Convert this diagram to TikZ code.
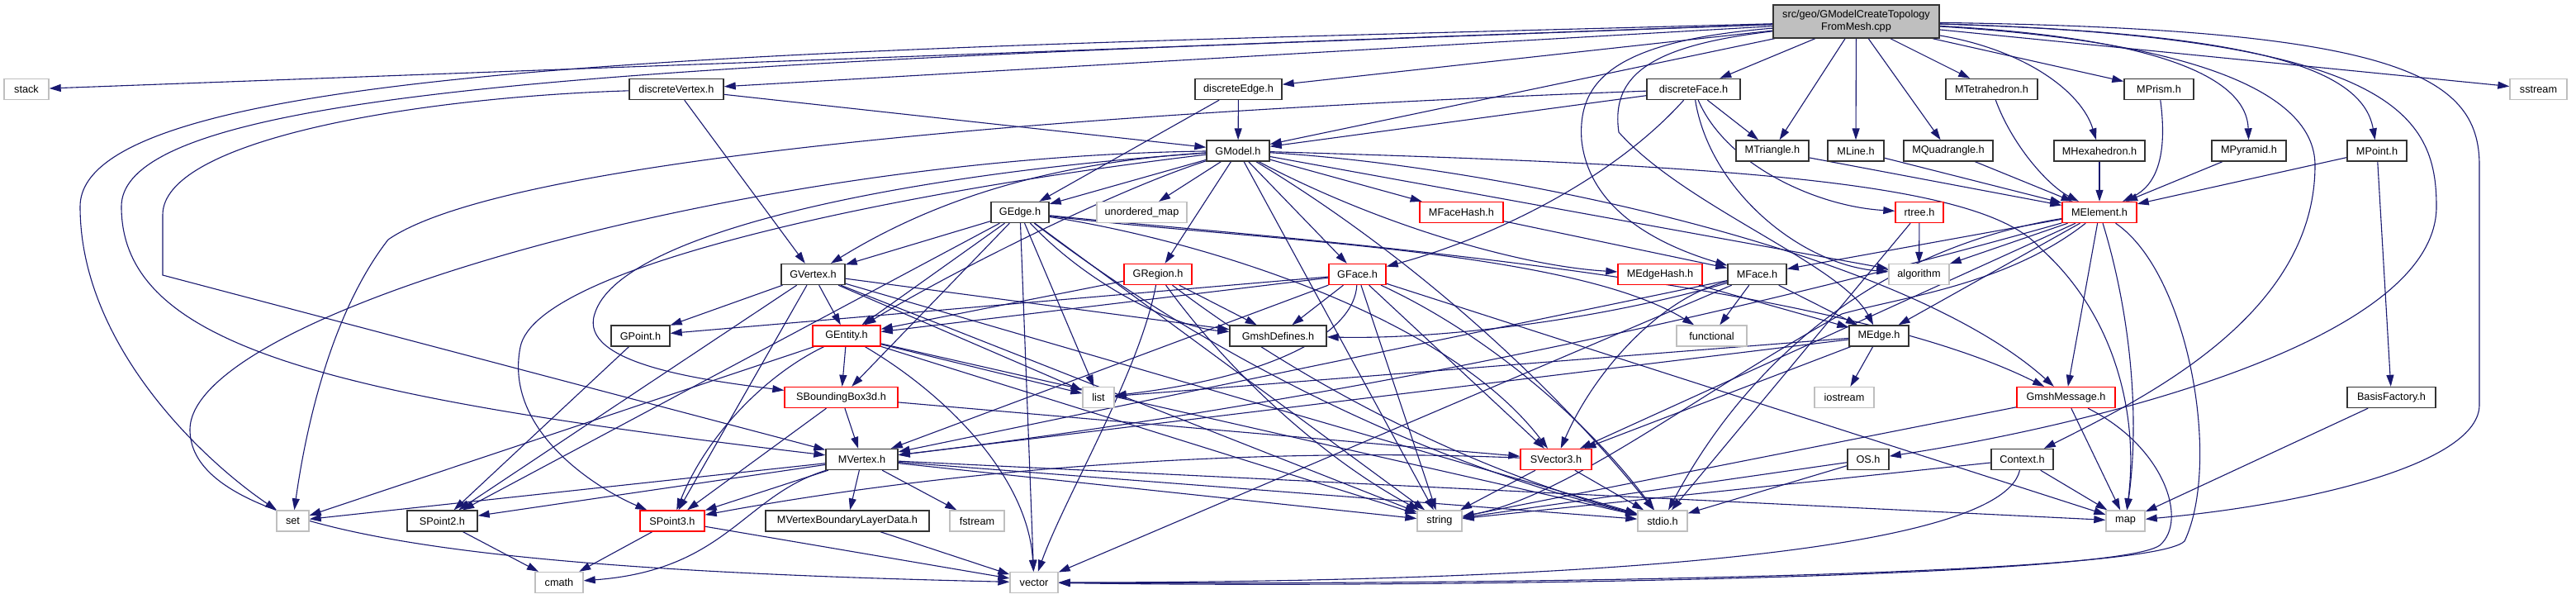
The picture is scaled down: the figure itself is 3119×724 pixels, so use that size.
\documentclass[tikz,border=0pt]{standalone}
\usepackage{fontspec}
\setmainfont{Liberation Sans}
\usetikzlibrary{arrows.meta}
\definecolor{ec}{HTML}{191970}
\definecolor{gb}{HTML}{BFBFBF}
\definecolor{rb}{HTML}{FF0000}
\pgfdeclarelayer{bg}
\pgfsetlayers{bg,main}
\begin{document}
\begin{tikzpicture}[x=1pt,y=-1pt,
  nd/.style={rectangle,minimum height=25pt,inner sep=0pt,fill=white,line width=1.4pt,font=\fontsize{12.7}{15}\selectfont,text=black},
  bk/.style={nd,draw=black!80},
  gy/.style={nd,draw=gb},
  rd/.style={nd,draw=rb},
  e/.style={draw=ec,line width=1.1pt,-{Triangle[length=14pt,width=9pt]}}]
\useasboundingbox (0,0) rectangle (3119,724);
% nodes
\node[bk,minimum width=201pt,minimum height=40pt,fill=gb,align=center] (root) at (2247.5,26) {src/geo/GModelCreateTopology\\FromMesh.cpp};
\node[gy,minimum width=54pt] (stack) at (32,108) {stack};
\node[bk,minimum width=114pt] (dV) at (819,108) {discreteVertex.h};
\node[bk,minimum width=105pt] (dE) at (1499.5,108) {discreteEdge.h};
\node[bk,minimum width=113pt] (dF) at (2050.5,108) {discreteFace.h};
\node[bk,minimum width=111pt] (MTet) at (2411.5,108) {MTetrahedron.h};
\node[bk,minimum width=84pt] (MPr) at (2614,108) {MPrism.h};
\node[gy,minimum width=69pt] (sstr) at (3073.5,108) {sstream};
\node[bk,minimum width=76pt] (GM) at (1499,182.5) {GModel.h};
\node[bk,minimum width=88pt] (MTri) at (2146,182.5) {MTriangle.h};
\node[bk,minimum width=68pt] (MLi) at (2247,182.5) {MLine.h};
\node[bk,minimum width=108pt] (MQu) at (2359,182.5) {MQuadrangle.h};
\node[bk,minimum width=110pt] (MHex) at (2542,182.5) {MHexahedron.h};
\node[bk,minimum width=90pt] (MPy) at (2723,182.5) {MPyramid.h};
\node[bk,minimum width=72pt] (MPt) at (2878,182.5) {MPoint.h};
\node[bk,minimum width=70pt] (GE) at (1235,257) {GEdge.h};
\node[gy,minimum width=109pt] (um) at (1382.5,257) {unordered\_map};
\node[rd,minimum width=101pt] (MFH) at (1769.5,257) {MFaceHash.h};
\node[rd,minimum width=58pt] (rtree) at (2324,257) {rtree.h};
\node[rd,minimum width=90pt] (MEl) at (2542,257) {MElement.h};
\node[bk,minimum width=77pt] (GV) at (984.5,332) {GVertex.h};
\node[rd,minimum width=82pt] (GR) at (1402,332) {GRegion.h};
\node[rd,minimum width=69pt] (GF) at (1643.5,332) {GFace.h};
\node[rd,minimum width=102pt] (MEH) at (2010,332) {MEdgeHash.h};
\node[bk,minimum width=71pt] (MF) at (2127.5,332) {MFace.h};
\node[gy,minimum width=73pt] (alg) at (2323.5,332) {algorithm};
\node[bk,minimum width=71pt] (GP) at (775.5,406.5) {GPoint.h};
\node[rd,minimum width=82pt] (GEn) at (1025,406.5) {GEntity.h};
\node[bk,minimum width=117pt] (GD) at (1547.5,406.5) {GmshDefines.h};
\node[gy,minimum width=85pt] (func) at (2072.5,406.5) {functional};
\node[bk,minimum width=72pt] (ME) at (2275,406.5) {MEdge.h};
\node[rd,minimum width=137pt] (SBB) at (1018.5,481) {SBoundingBox3d.h};
\node[gy,minimum width=38pt] (list) at (1330,481) {list};
\node[gy,minimum width=72pt] (iost) at (2233,481) {iostream};
\node[rd,minimum width=119pt] (GMsg) at (2501.5,481) {GmshMessage.h};
\node[bk,minimum width=107pt] (BF) at (2895.5,481) {BasisFactory.h};
\node[bk,minimum width=87pt] (MV) at (1043.5,556) {MVertex.h};
\node[rd,minimum width=86pt] (SV3) at (1884,556) {SVector3.h};
\node[bk,minimum width=50pt] (OS) at (2262,556) {OS.h};
\node[bk,minimum width=75pt] (Ctx) at (2448.5,556) {Context.h};
\node[gy,minimum width=39pt] (set) at (354.5,630.5) {set};
\node[bk,minimum width=85pt] (SP2) at (535.5,630.5) {SPoint2.h};
\node[rd,minimum width=78pt] (SP3) at (814,630.5) {SPoint3.h};
\node[bk,minimum width=198pt] (MVB) at (1026,630.5) {MVertexBoundaryLayerData.h};
\node[gy,minimum width=66pt] (fstr) at (1183,630.5) {fstream};
\node[gy,minimum width=54pt] (str) at (1743,630.5) {string};
\node[gy,minimum width=60pt] (stdio) at (2013,630.5) {stdio.h};
\node[gy,minimum width=47pt] (map) at (2573.5,630.5) {map};
\node[gy,minimum width=58pt] (cmath) at (677,705) {cmath};
\node[gy,minimum width=58pt] (vec) at (1252,705) {vector};
\begin{pgfonlayer}{bg}
\fill[white] (0,0) rectangle (3119,724);
% root
\draw[e] (root) -- (stack);
\draw[e] (root) .. controls (1000,60) and (97,70) .. (97,250) .. controls (97,420) and (250,560) .. (set);
\draw[e] (root) .. controls (900,75) and (147,95) .. (147,250) .. controls (147,420) and (400,480) .. (MV);
\draw[e] (root) -- (dV);
\draw[e] (root) -- (GM);
\draw[e] (root) -- (dE);
\draw[e] (root) -- (dF);
\draw[e] (root) -- (MTri);
\draw[e] (root) -- (MLi);
\draw[e] (root) -- (MQu);
\draw[e] (root) -- (MTet);
\draw[e] (root) .. controls (2450,60) and (2520,110) .. (MHex);
\draw[e] (root) -- (MPr);
\draw[e] (root) .. controls (2600,45) and (2720,90) .. (MPy);
\draw[e] (root) .. controls (2720,40) and (2860,80) .. (MPt);
\draw[e] (root) -- (sstr);
\draw[e] (root) .. controls (2900,35) and (3002,90) .. (3002,200) -- (3002,490) .. controls (3002,560) and (2800,610) .. (map);
\draw[e] (root) .. controls (2650,50) and (2803,110) .. (2803,200) .. controls (2803,380) and (2600,480) .. (Ctx);
\draw[e] (root) .. controls (2900,45) and (2950,140) .. (2950,250) .. controls (2950,420) and (2500,520) .. (OS);
\draw[e] (root) .. controls (2000,55) and (1950,90) .. (1960,160) .. controls (2040,250) and (2230,320) .. (ME);
\draw[e] (root) .. controls (1950,50) and (1910,100) .. (1915,170) .. controls (1925,260) and (2020,300) .. (MF);
% discrete*
\draw[e] (dV) -- (GM);
\draw[e] (dV) -- (GV);
\draw[e] (dV) .. controls (500,118) and (197,170) .. (197,260) -- (197,333) -- (MV);
\draw[e] (dE) -- (GM);
\draw[e] (dE) -- (GE);
\draw[e] (dF) -- (GM);
\draw[e] (dF) .. controls (1950,220) and (1800,290) .. (GF);
\draw[e] (dF) -- (MTri);
\draw[e] (dF) .. controls (2090,200) and (2200,250) .. (rtree);
\draw[e] (dF) .. controls (2070,230) and (2180,320) .. (alg);
\draw[e] (dF) .. controls (1200,140) and (600,200) .. (470,290) .. controls (400,380) and (370,520) .. (set);
% GModel
\draw[e] (GM) -- (GE);
\draw[e] (GM) -- (um);
\draw[e] (GM) -- (GR);
\draw[e] (GM) -- (GF);
\draw[e] (GM) -- (MFH);
\draw[e] (GM) .. controls (1669,272) and (1840,322) .. (MEH);
\draw[e] (GM) .. controls (1300,195) and (1150,230) .. (GV);
\draw[e] (GM) .. controls (1350,230) and (1150,330) .. (GEn);
\draw[e] (GM) -- (alg);
\draw[e] (GM) .. controls (2100,200) and (2400,220) .. (2470,300) .. controls (2560,380) and (2590,500) .. (map);
\draw[e] (GM) -- (str);
\draw[e] (GM) .. controls (1696,301) and (1868,451) .. (stdio);
\draw[e] (GM) .. controls (900,190) and (230,380) .. (230,520) .. controls (230,650) and (600,690) .. (vec);
\draw[e] (GM) .. controls (1100,210) and (750,280) .. (720,380) .. controls (700,440) and (850,460) .. (SBB);
\draw[e] (GM) .. controls (1100,230) and (650,320) .. (630,420) .. controls (610,520) and (720,590) .. (SP3);
\draw[e] (GM) .. controls (1800,200) and (2300,300) .. (GMsg);
% GEdge
\draw[e] (GE) -- (GV);
\draw[e] (GE) -- (GEn);
\draw[e] (GE) .. controls (1320,347) and (1424,396) .. (GD);
\draw[e] (GE) .. controls (1450,290) and (1750,380) .. (SV3);
\draw[e] (GE) -- (SP2);
\draw[e] (GE) -- (list);
\draw[e] (GE) -- (str);
\draw[e] (GE) -- (vec);
\draw[e] (GE) .. controls (1468,435) and (1728,560) .. (stdio);
\draw[e] (GE) -- (SBB);
\draw[e] (GE) .. controls (1500,290) and (1900,300) .. (func);
\draw[e] (GE) .. controls (1500,285) and (2200,330) .. (GMsg);
% GVertex
\draw[e] (GV) -- (GEn);
\draw[e] (GV) -- (GP);
\draw[e] (GV) -- (SP2);
\draw[e] (GV) -- (SP3);
\draw[e] (GV) -- (GD);
\draw[e] (GV) -- (list);
\draw[e] (GV) -- (str);
\draw[e] (GV) -- (stdio);
% GRegion
\draw[e] (GR) -- (GEn);
\draw[e] (GR) -- (GD);
\draw[e] (GR) .. controls (1493,457) and (1606,557) .. (str);
\draw[e] (GR) .. controls (1380,450) and (1290,600) .. (vec);
\draw[e] (GR) .. controls (1586,471) and (1789,571) .. (stdio);
% GFace
\draw[e] (GF) -- (GEn);
\draw[e] (GF) -- (GP);
\draw[e] (GF) -- (GD);
\draw[e] (GF) -- (SV3);
\draw[e] (GF) .. controls (1640,400) and (1550,455) .. (list);
\draw[e] (GF) -- (str);
\draw[e] (GF) .. controls (1791,400) and (1915,500) .. (stdio);
\draw[e] (GF) -- (map);
\draw[e] (GF) -- (MV);
% GEntity
\draw[e] (GEn) -- (set);
\draw[e] (GEn) .. controls (926,454) and (855,528) .. (SP3);
\draw[e] (GEn) -- (SBB);
\draw[e] (GEn) -- (list);
\draw[e] (GEn) .. controls (1150,480) and (1245,580) .. (vec);
\draw[e] (GEn) -- (str);
\draw[e] (GEn) -- (stdio);
\draw[e] (GP) -- (SP2);
% SBoundingBox3d
\draw[e] (SBB) -- (SP3);
\draw[e] (SBB) -- (SV3);
\draw[e] (SBB) -- (MV);
% MVertex
\draw[e] (MV) -- (set);
\draw[e] (MV) -- (SP2);
\draw[e] (MV) -- (SP3);
\draw[e] (MV) .. controls (900,600) and (880,690) .. (cmath);
\draw[e] (MV) -- (MVB);
\draw[e] (MV) -- (fstr);
\draw[e] (MV) -- (str);
\draw[e] (MV) -- (stdio);
\draw[e] (MV) -- (map);
% points / vectors
\draw[e] (SP2) -- (cmath);
\draw[e] (SP3) -- (cmath);
\draw[e] (SP3) -- (vec);
\draw[e] (MVB) -- (vec);
\draw[e] (SV3) .. controls (1524,541) and (1167,565) .. (SP3);
\draw[e] (SV3) -- (str);
\draw[e] (SV3) -- (stdio);
% MFace / MEdge
\draw[e] (MF) -- (MV);
\draw[e] (MF) -- (ME);
\draw[e] (MF) .. controls (2010,360) and (1930,450) .. (SV3);
\draw[e] (MF) -- (func);
\draw[e] (MF) .. controls (1938,387) and (1744,411) .. (GD);
\draw[e] (MF) -- (vec);
\draw[e] (ME) -- (MV);
\draw[e] (ME) -- (SV3);
\draw[e] (ME) -- (iost);
\draw[e] (ME) -- (list);
\draw[e] (MEH) -- (ME);
\draw[e] (MFH) -- (MF);
\draw[e] (rtree) -- (alg);
\draw[e] (rtree) -- (stdio);
% MElement
\draw[e] (MEl) .. controls (2050,396) and (1551,495) .. (MV);
\draw[e] (MEl) -- (MF);
\draw[e] (MEl) -- (ME);
\draw[e] (MEl) -- (alg);
\draw[e] (MEl) -- (SV3);
\draw[e] (MEl) -- (GMsg);
\draw[e] (MEl) .. controls (2430,345) and (2300,360) .. (2230,380) .. controls (2050,480) and (1900,600) .. (str);
\draw[e] (MEl) .. controls (2280,300) and (2120,430) .. (stdio);
\draw[e] (MEl) .. controls (2580,381) and (2591,506) .. (map);
\draw[e] (MEl) .. controls (2650,330) and (2690,560) .. (2645,655) .. controls (2600,700) and (1700,708) .. (vec);
% GmshMessage, OS, Context, BasisFactory
\draw[e] (GMsg) -- (str);
\draw[e] (GMsg) -- (map);
\draw[e] (GMsg) .. controls (2620,540) and (2650,630) .. (2615,660) .. controls (2560,700) and (1700,712) .. (vec);
\draw[e] (OS) -- (str);
\draw[e] (OS) -- (stdio);
\draw[e] (Ctx) -- (str);
\draw[e] (Ctx) -- (map);
\draw[e] (Ctx) .. controls (2420,680) and (1800,705) .. (vec);
\draw[e] (BF) -- (map);
% element types
\draw[e] (MTri) -- (MEl);
\draw[e] (MLi) -- (MEl);
\draw[e] (MQu) -- (MEl);
\draw[e] (MTet) .. controls (2436,175) and (2479,224) .. (MEl);
\draw[e] (MHex) -- (MEl);
\draw[e] (MPr) .. controls (2625,190) and (2610,225) .. (MEl);
\draw[e] (MPy) -- (MEl);
\draw[e] (MPt) -- (MEl);
\draw[e] (MPt) -- (BF);
\end{pgfonlayer}
\end{tikzpicture}
\end{document}
